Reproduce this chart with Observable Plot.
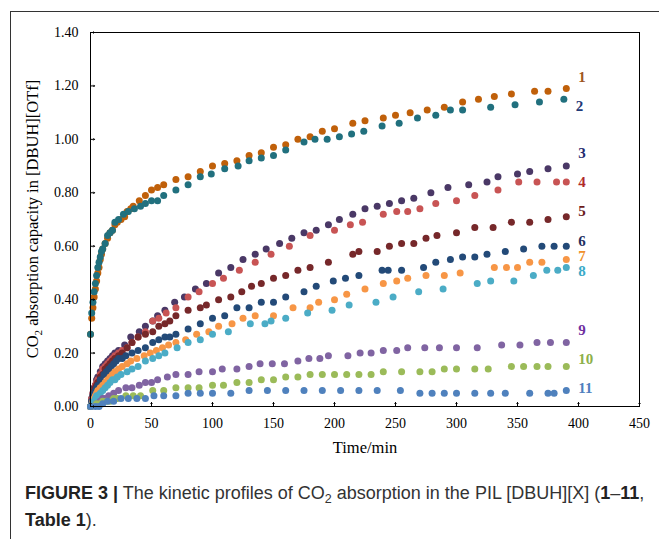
<!DOCTYPE html>
<html>
<head>
<meta charset="utf-8">
<script src="https://cdn.jsdelivr.net/npm/d3@7"></script>
<script src="https://cdn.jsdelivr.net/npm/@observablehq/plot@0.6"></script>
<style>
  html, body { margin: 0; padding: 0; background: #fff; }
  #wrap { position: relative; width: 659px; height: 539px; overflow: hidden; }
  #box { position: absolute; left: 10px; top: 11px; width: 660px; height: 540px;
         border-top: 1.5px solid #333; border-left: 1.5px solid #333; }
  #chart { position: absolute; left: 0; top: 0; }
  #caption { position: absolute; left: 25px; top: 480px; width: 630px;
             font-family: "Liberation Sans", Arial, sans-serif; font-size: 18px;
             line-height: 27px; color: #333; }
  #caption b { color: #222; }
  #caption sub { font-size: 12.5px; line-height: 0; vertical-align: -4px; }
</style>
</head>
<body>
<div id="wrap">
  <div id="box"></div>
  <div id="chart"></div>
  <div id="caption"><b>FIGURE 3 |</b> The kinetic profiles of CO<sub>2</sub> absorption in the PIL [DBUH][X] (<b>1</b>–<b>11</b>, <b>Table 1</b>).</div>
</div>
<script>
// ---- data ----
const seriesNames = ["1","2","3","4","5","6","7","8","9","10","11"];
const dotColors   = ["#C0600A","#21707E","#4A3866","#C85454","#76282A","#234A78","#F79646","#4BACC6","#8064A2","#9BBB59","#4F81BD"];
const labelColors = ["#A0561E","#1F3A78","#1F2A6E","#B02A2A","#6B1A1A","#1F2F5F","#F0902A","#3AAAC8","#7030A0","#8DB04A","#4F7FBE"];
const labelDy     = [-11, 7, -13, 0, -6, -5, -3, 4, -12, -7, -2];

const t1 = [0,1,2,3,4,5,6,7,8,9,10,12,14,16,18,20,22,25,28,30,33,35,40,45,50,55,60,70,80,90,100,110,120,130,140,150,160,170,180,190,200,215,225,240,250,262,276,290,305,318,331,345,364,375,390];
const v1 = [0.27,0.33,0.37,0.41,0.44,0.47,0.50,0.52,0.55,0.57,0.59,0.61,0.63,0.65,0.66,0.68,0.69,0.70,0.71,0.73,0.74,0.75,0.77,0.79,0.81,0.82,0.83,0.85,0.86,0.88,0.90,0.91,0.92,0.94,0.95,0.97,0.98,1.00,1.01,1.03,1.04,1.06,1.07,1.08,1.09,1.10,1.11,1.12,1.14,1.15,1.16,1.17,1.18,1.18,1.19];

const t2 = [0,1,2,3,4,5,6,7,8,9,10,12,14,16,18,20,23,27,31,36,41,45,50,55,60,70,80,90,99,110,121,130,140,150,160,175,184,194,204,214,224,239,253,268,283,295,305,328,348,368,388];
const v2 = [0.27,0.35,0.39,0.43,0.46,0.49,0.52,0.54,0.56,0.58,0.59,0.61,0.64,0.65,0.66,0.69,0.70,0.72,0.73,0.74,0.75,0.76,0.77,0.77,0.79,0.81,0.83,0.86,0.87,0.89,0.90,0.92,0.93,0.94,0.96,0.99,1.00,1.00,1.01,1.02,1.03,1.05,1.06,1.08,1.09,1.11,1.11,1.12,1.13,1.14,1.15];

const t3 = [0,1,2,3,4,5,6,8,10,12,14,16,18,20,23,28,33,40,45,51,55,61,69,77,86,95,105,115,125,135,144,155,165,175,185,195,204,215,225,235,245,255,265,279,293,310,325,334,350,360,375,390];
const v3 = [0,0.03,0.05,0.07,0.08,0.10,0.11,0.13,0.15,0.16,0.17,0.18,0.19,0.20,0.21,0.23,0.26,0.28,0.30,0.32,0.34,0.36,0.39,0.41,0.44,0.46,0.50,0.52,0.55,0.57,0.59,0.61,0.63,0.65,0.66,0.68,0.70,0.72,0.74,0.75,0.76,0.77,0.78,0.80,0.82,0.83,0.84,0.86,0.87,0.88,0.89,0.90];

const t4 = [0,1,2,3,4,5,6,8,10,12,14,16,18,20,23,26,30,34,39,45,51,56,62,70,80,89,100,109,122,135,148,163,180,200,213,223,240,251,260,270,283,300,315,334,351,366,382,390];
const v4 = [0,0.03,0.05,0.06,0.08,0.09,0.10,0.12,0.14,0.15,0.16,0.17,0.18,0.19,0.20,0.21,0.22,0.24,0.26,0.28,0.32,0.33,0.35,0.37,0.41,0.43,0.46,0.48,0.51,0.54,0.57,0.60,0.64,0.66,0.68,0.69,0.72,0.73,0.73,0.74,0.76,0.77,0.79,0.81,0.84,0.84,0.84,0.84];

const t5 = [0,1,2,3,4,5,6,8,10,12,14,16,18,20,23,26,30,34,39,45,51,56,61,65,70,80,90,95,105,115,124,132,140,150,160,170,180,195,215,220,235,245,255,265,275,284,300,315,330,345,360,375,390];
const v5 = [0,0.02,0.04,0.06,0.07,0.08,0.09,0.11,0.12,0.14,0.15,0.16,0.17,0.18,0.19,0.20,0.22,0.24,0.26,0.27,0.28,0.30,0.31,0.32,0.34,0.36,0.37,0.38,0.40,0.41,0.43,0.45,0.46,0.48,0.49,0.51,0.52,0.54,0.57,0.58,0.58,0.60,0.61,0.61,0.63,0.64,0.65,0.67,0.67,0.69,0.69,0.70,0.71];

const t6 = [0,1,2,3,4,5,6,8,11,13,15,17,19,21,23,26,29,34,39,45,51,56,61,65,70,80,90,100,110,120,130,140,150,160,175,185,199,209,220,239,244,255,273,283,295,305,315,325,340,355,370,380,390];
const v6 = [0,0.02,0.04,0.05,0.06,0.07,0.08,0.10,0.12,0.13,0.14,0.15,0.16,0.17,0.18,0.18,0.19,0.20,0.21,0.22,0.24,0.25,0.26,0.26,0.27,0.29,0.31,0.33,0.34,0.37,0.37,0.39,0.39,0.41,0.43,0.45,0.47,0.48,0.49,0.51,0.51,0.51,0.52,0.54,0.55,0.56,0.56,0.57,0.58,0.59,0.60,0.60,0.60];

const t7 = [0,2,3,4,5,6,8,10,12,14,16,18,20,23,26,30,33,38,44,49,54,59,64,70,78,87,97,105,116,125,135,150,166,180,187,200,210,225,240,251,260,275,290,303,331,341,350,360,370,390];
const v7 = [0,0.02,0.03,0.04,0.05,0.06,0.07,0.08,0.09,0.10,0.11,0.12,0.13,0.14,0.15,0.16,0.17,0.18,0.19,0.20,0.21,0.22,0.23,0.24,0.25,0.27,0.28,0.30,0.31,0.33,0.34,0.34,0.37,0.37,0.39,0.40,0.42,0.44,0.46,0.47,0.48,0.49,0.49,0.50,0.52,0.52,0.52,0.54,0.54,0.55];

const t8 = [0,2,3,4,5,6,8,10,12,14,16,18,20,22,25,30,34,39,45,51,56,61,71,80,90,100,113,131,143,148,160,178,198,212,234,248,269,289,317,328,347,363,374,383,390];
const v8 = [0,0.01,0.02,0.03,0.04,0.04,0.05,0.06,0.07,0.08,0.09,0.10,0.10,0.11,0.12,0.13,0.14,0.15,0.17,0.18,0.19,0.20,0.22,0.24,0.25,0.27,0.28,0.31,0.31,0.32,0.33,0.35,0.36,0.38,0.39,0.41,0.43,0.44,0.46,0.47,0.47,0.49,0.51,0.51,0.52];

const t9 = [0,5,8,10,12,15,19,23,29,34,40,45,50,55,63,70,80,89,100,108,120,130,139,149,159,170,179,188,195,211,221,230,240,251,260,274,286,300,317,337,352,366,377,390];
const v9 = [0,0.01,0.02,0.03,0.03,0.04,0.05,0.06,0.07,0.07,0.08,0.09,0.09,0.10,0.11,0.12,0.12,0.13,0.13,0.14,0.14,0.15,0.16,0.16,0.16,0.17,0.18,0.18,0.19,0.19,0.20,0.20,0.21,0.21,0.22,0.22,0.22,0.22,0.22,0.23,0.23,0.24,0.24,0.24];

const t10 = [0,5,8,10,13,16,19,22,29,35,41,51,60,70,80,89,100,109,120,130,140,150,160,170,180,190,200,210,220,230,240,255,270,280,290,300,315,326,345,355,366,375,390];
const v10 = [0,0.01,0.01,0.02,0.02,0.02,0.03,0.03,0.04,0.04,0.04,0.06,0.06,0.07,0.07,0.07,0.08,0.08,0.09,0.09,0.10,0.10,0.11,0.11,0.12,0.12,0.12,0.12,0.12,0.12,0.13,0.13,0.13,0.13,0.14,0.14,0.14,0.14,0.15,0.15,0.15,0.15,0.15];

const t11 = [0,4,7,10,14,19,25,31,38,45,52,60,70,80,90,100,115,130,145,160,175,190,205,220,235,254,270,280,290,300,315,328,340,360,375,380,390];
const v11 = [0,0,0.00,0.01,0.02,0.02,0.03,0.03,0.03,0.03,0.04,0.04,0.04,0.05,0.05,0.05,0.05,0.06,0.06,0.06,0.06,0.06,0.06,0.06,0.06,0.06,0.05,0.05,0.05,0.05,0.05,0.05,0.05,0.05,0.05,0.05,0.06];

const xTicks = [0,50,100,150,200,250,300,350,400,450];
const yTicks = [0,0.2,0.4,0.6,0.8,1.0,1.2,1.4];
const xLabel = "Time/min";

// ---- build table ----
const times = [t1,t2,t3,t4,t5,t6,t7,t8,t9,t10,t11];
const vals  = [v1,v2,v3,v4,v5,v6,v7,v8,v9,v10,v11];
const points = [];
seriesNames.forEach((s, i) => times[i].forEach((t, j) => points.push({s, t, v: vals[i][j]})));
const lastPts = seriesNames.map((s, i) => ({s, t: times[i].at(-1), v: vals[i].at(-1), c: labelColors[i], dy: labelDy[i]}));

const serif = "'Liberation Serif', 'Times New Roman', serif";

const chart = Plot.plot({
  width: 659,
  height: 470,
  marginLeft: 90,
  marginRight: 20,
  marginTop: 32,
  marginBottom: 64,
  style: {fontFamily: serif, fontSize: "14px", color: "#000", background: "transparent"},
  x: {domain: [0, 450]},
  y: {domain: [0, 1.4]},
  color: {domain: seriesNames, range: dotColors},
  marks: [
    Plot.dot(points, {x: "t", y: "v", fill: "s", r: 3.5, stroke: "none"}),
    ...lastPts.map(d => Plot.text([d], {x: "t", y: "v", text: "s", dx: 12, dy: d.dy, textAnchor: "start",
        fill: d.c, fontWeight: "bold", fontSize: 15, fontFamily: serif})),
    Plot.vector(xTicks, {x: d => d, y: 0, length: 4, anchor: "start", stroke: "#000", strokeWidth: 1}),
    Plot.vector(yTicks, {x: 0, y: d => d, rotate: 90, length: 4, anchor: "start", stroke: "#000", strokeWidth: 1}),
    Plot.axisX({ticks: xTicks, tickSize: 0, tickPadding: 12, tickFormat: d3.format("d"), label: null, fontSize: 14}),
    Plot.axisY({ticks: yTicks, tickSize: 0, tickPadding: 12, tickFormat: d3.format(".2f"), label: null, fontSize: 14}),
    Plot.text([xLabel], {frameAnchor: "bottom", text: d => d, dy: 46, fontSize: 16.5, fontFamily: serif, fill: "#000"}),
    Plot.frame({stroke: "#000", strokeWidth: 1})
  ]
});

// y-axis title with subscript (real text)
const svg = d3.select(chart);
const yt = svg.append("text")
  .attr("transform", "translate(38,219) rotate(-90)")
  .attr("text-anchor", "middle")
  .attr("font-family", serif)
  .attr("font-size", 16.5)
  .attr("fill", "#000");
yt.append("tspan").text("CO");
yt.append("tspan").attr("font-size", 11).attr("dy", 4).text("2");
yt.append("tspan").attr("dy", -4).text(" absorption capacity in [DBUH][OTf]");

document.getElementById("chart").appendChild(chart);
</script>
</body>
</html>
